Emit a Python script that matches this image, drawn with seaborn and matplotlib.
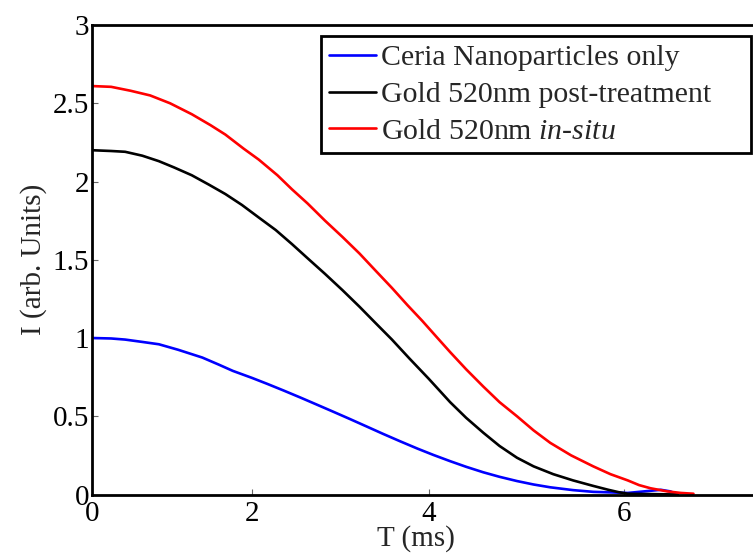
import numpy as np
import pandas as pd
import matplotlib
matplotlib.use("Agg")
import matplotlib.pyplot as plt
import seaborn as sns

# values
t_ceria = [0, 0.25, 0.43, 0.65, 0.86, 1.10, 1.40, 1.60, 1.77, 2.00, 2.18, 2.37, 2.57, 2.75, 2.94, 3.13,
           3.33, 3.50, 3.69, 3.88, 4.05, 4.23, 4.40, 4.58, 4.75, 4.93, 5.10, 5.27, 5.50, 5.70, 6.04, 6.20,
           6.36, 6.45, 6.52]
i_ceria = [1.00, 0.997, 0.99, 0.975, 0.96, 0.925, 0.875, 0.83, 0.79, 0.745, 0.707, 0.665, 0.619, 0.576, 0.53, 0.483,
           0.432, 0.388, 0.34, 0.293, 0.253, 0.213, 0.177, 0.142, 0.113, 0.086, 0.064, 0.046, 0.028, 0.017, 0.01, 0.02,
           0.03, 0.02, 0.0]

t_post = [0, 0.25, 0.43, 0.65, 0.86, 1.05, 1.27, 1.48, 1.68, 1.88, 2.08, 2.28, 2.47, 2.66, 2.85, 3.05,
          3.24, 3.42, 3.60, 3.79, 4.00, 4.23, 4.40, 4.58, 4.75, 4.93, 5.10, 5.30, 5.50, 5.70, 5.85, 5.95,
          6.04, 6.52]
i_post = [2.20, 2.195, 2.19, 2.165, 2.13, 2.09, 2.04, 1.98, 1.92, 1.85, 1.77, 1.69, 1.60, 1.505, 1.41, 1.305,
          1.20, 1.095, 0.99, 0.87, 0.74, 0.59, 0.49, 0.395, 0.31, 0.235, 0.18, 0.13, 0.09, 0.055, 0.03, 0.015,
          0.005, 0.0]

t_insitu = [0, 0.25, 0.50, 0.75, 1.00, 1.27, 1.50, 1.68, 1.90, 2.08, 2.30, 2.47, 2.65, 2.85, 3.05, 3.24,
            3.42, 3.60, 3.77, 3.93, 4.08, 4.23, 4.40, 4.58, 4.75, 4.93, 5.10, 5.27, 5.48, 5.70, 5.87, 6.04,
            6.15, 6.26, 6.42, 6.55, 6.67]
i_insitu = [2.61, 2.605, 2.58, 2.55, 2.50, 2.43, 2.36, 2.30, 2.21, 2.14, 2.04, 1.95, 1.86, 1.75, 1.645, 1.54,
            1.43, 1.32, 1.21, 1.11, 1.01, 0.91, 0.80, 0.69, 0.59, 0.50, 0.41, 0.33, 0.25, 0.18, 0.13, 0.09,
            0.06, 0.04, 0.02, 0.01, 0.005]

labels = ["Ceria Nanoparticles only", "Gold 520nm post-treatment", "Gold 520nm $\\it{in}$-$\\it{situ}$"]
colors = ["#0000ff", "#000000", "#ff0000"]

df = pd.concat([
    pd.DataFrame({"T": t_ceria, "I": i_ceria, "sample": labels[0]}),
    pd.DataFrame({"T": t_post, "I": i_post, "sample": labels[1]}),
    pd.DataFrame({"T": t_insitu, "I": i_insitu, "sample": labels[2]}),
])

sns.set_theme(style="white")
plt.rcParams["font.family"] = ["Liberation Serif", "DejaVu Serif"]
plt.rcParams["mathtext.fontset"] = "custom"
plt.rcParams["mathtext.rm"] = "Liberation Serif"
plt.rcParams["mathtext.it"] = "Liberation Serif:italic"

fig = plt.figure(figsize=(7.53, 5.56), dpi=100)
ax = fig.add_axes([0.1222, 0.1106, 0.992, 0.8444])

sns.lineplot(data=df, x="T", y="I", hue="sample", palette=dict(zip(labels, colors)),
             linewidth=1.9, sort=False, ax=ax)

# the reference's x axis is slightly stretched towards the right
r = 1.0507
ax.set_xscale("function", functions=(lambda x: np.power(r, x) - 1,
                                     lambda y: np.log1p(y) / np.log(r)))
ax.set_xlim(0, 8)
ax.set_ylim(0, 3)
ax.set_xticks([0, 2, 4, 6])
ax.set_yticks([0, 0.5, 1, 1.5, 2, 2.5, 3])
ax.set_yticklabels(["0", "0.5", "1", "1.5", "2", "2.5", "3"])

for s in ["left", "bottom", "top"]:
    ax.spines[s].set_linewidth(2)
    ax.spines[s].set_color("black")
ax.spines["right"].set_visible(False)

ax.tick_params(direction="in", length=4, width=0.8, color="#666666",
               labelsize=21, labelcolor="black", bottom=True, left=True)
ax.tick_params(axis="y", pad=2)
ax.tick_params(axis="x", pad=5)

ax.set_xlabel("T (ms)", fontsize=21)
ax.xaxis.set_label_coords(0.434, -0.066)
ax.set_ylabel("I (arb. Units)", fontsize=21, labelpad=4)

leg = ax.legend(loc="upper left",
                bbox_to_anchor=(321 / 753, 1 - 151 / 556, 430 / 753, 115 / 556),
                bbox_transform=fig.transFigure, mode="expand", borderaxespad=0,
                fontsize=21.5, handlelength=1.55, handletextpad=0.18, borderpad=0.28,
                labelspacing=0.33, fancybox=False, framealpha=1, edgecolor="black")
leg.get_frame().set_linewidth(2)
leg.set_title(None)

fig.savefig("out.png", dpi=100)
